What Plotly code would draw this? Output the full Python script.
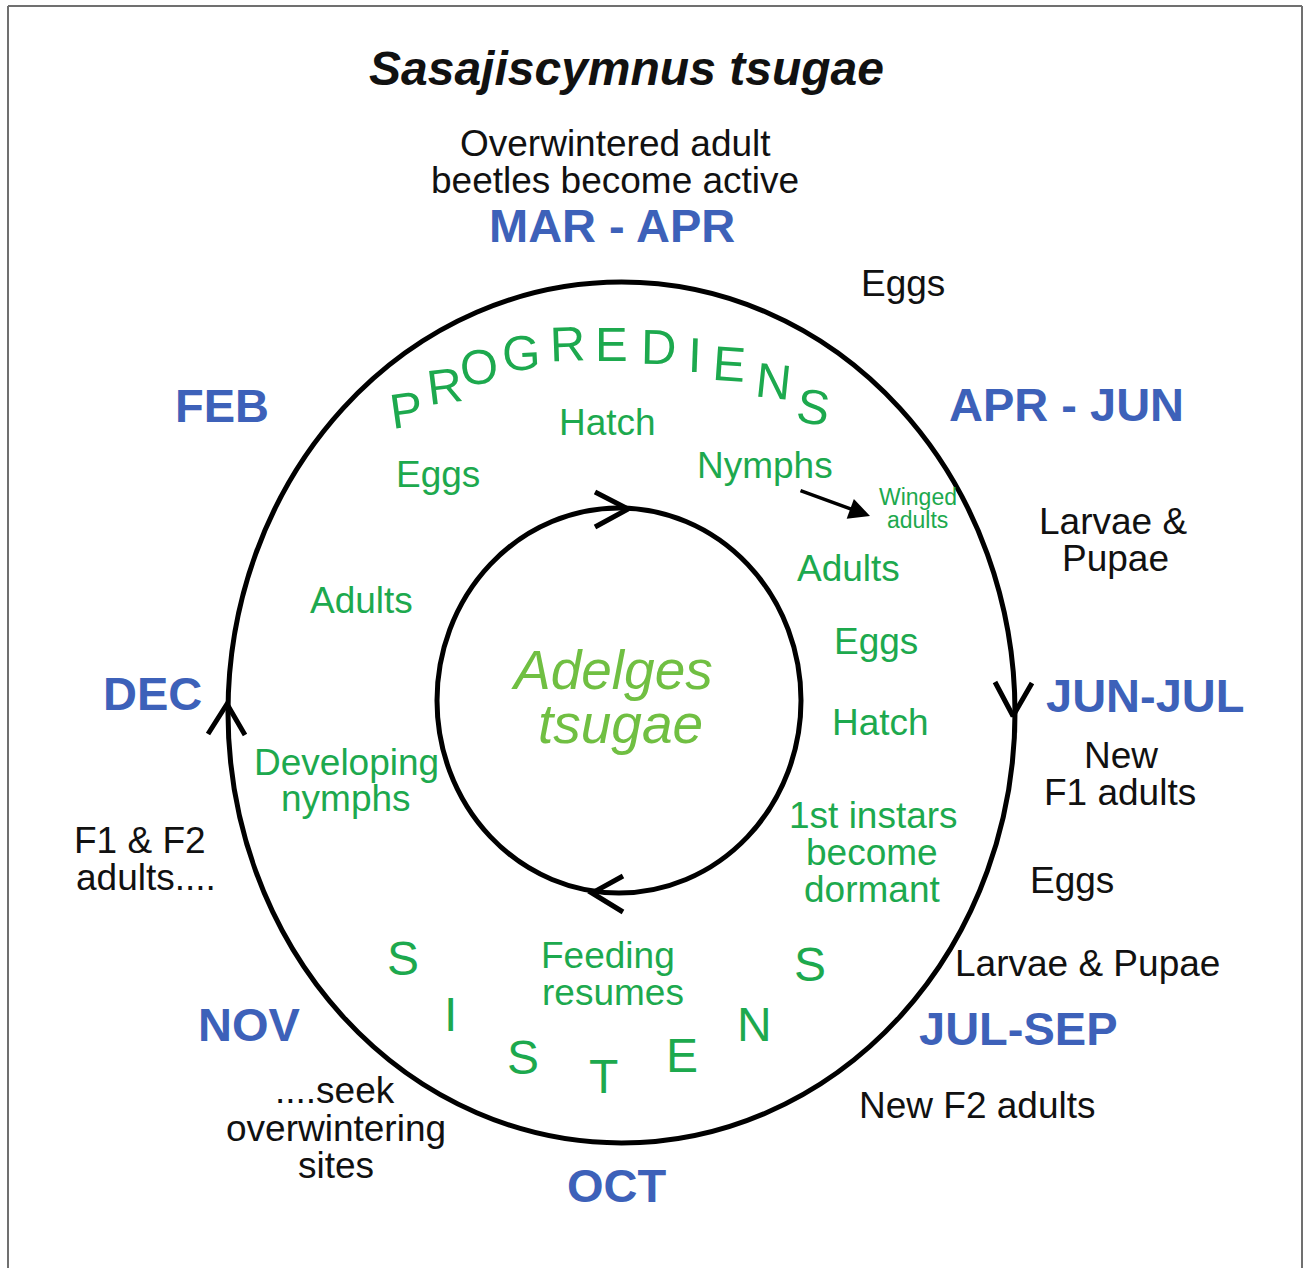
import plotly.graph_objects as go

W, H = 1304, 1268
FONT = "Liberation Sans, Arial, Helvetica, sans-serif"
BLUE = "#3D61B9"
GREEN = "#1DA94E"
LIGHT_GREEN = "#70BF42"
BLACK = "#111111"

# ---------------- data (labels) ----------------
title_text = "Sasajiscymnus tsugae"

month_labels = ["MAR - APR", "APR - JUN", "JUN-JUL", "JUL-SEP", "OCT", "NOV", "DEC", "FEB"]
month_x = [612, 1066, 1145, 1018, 617, 249, 152, 222]
month_y = [225, 404, 695, 1028, 1185, 1024, 693, 405]

beetle_labels = ["Overwintered adult", "beetles become active", "Eggs", "Larvae &", "Pupae",
                 "New", "F1 adults", "Eggs", "Larvae & Pupae", "New F2 adults",
                 "....seek", "overwintering", "sites", "F1 & F2", "adults...."]
beetle_x = [615, 615, 903, 1113, 1115, 1121, 1120, 1072, 1087, 977, 335, 336, 336, 140, 146]
beetle_y = [143, 180, 283, 521, 558, 755, 792, 880, 963, 1105, 1090, 1128, 1165, 840, 877]

adelgid_labels = ["Hatch", "Eggs", "Nymphs", "Adults", "Adults", "Eggs", "Hatch",
                  "Developing", "nymphs", "1st instars", "become", "dormant", "Feeding", "resumes"]
adelgid_x = [607, 438, 765, 848, 361, 876, 880, 346, 346, 873, 872, 872, 608, 613]
adelgid_y = [422, 474, 465, 568, 600, 641, 722, 762, 798, 815, 852, 889, 955, 992]

winged_labels = ["Winged", "adults"]
winged_x = [918, 917]
winged_y = [497, 520]

progrediens_letters = list("PROGREDIENS")
progrediens_x = [406, 444, 479, 521, 567, 611, 658, 695, 729, 773, 813]
progrediens_y = [410, 386, 367, 353, 344, 344, 347, 355, 364, 381, 407]
progrediens_angle = [-8, -7, -5, -3, -2, 0, 1, 2, 4, 6, 8]

sistens_letters = list("SISTENS")
sistens_x = [403, 450, 523, 603, 682, 754, 810]
sistens_y = [958, 1014, 1057, 1076, 1055, 1024, 964]

center_labels = ["Adelges", "tsugae"]
center_x = [612, 620]
center_y = [670, 724]

# cycle outlines (bounding boxes of ellipses)
outer_cycle = dict(x0=228, x1=1015, y0=282, y1=1143)
inner_cycle = dict(x0=437, x1=801, y0=508, y1=893)

# chevron arrowheads: arm, tip, arm
chevrons = [
    ([995, 1013, 1032], [682, 716, 683]),   # outer right, pointing down
    ([208, 227, 245], [734, 704, 735]),     # outer left, pointing up
    ([595, 628, 595], [492, 509, 527]),     # inner top, pointing right
    ([623, 592, 623], [876, 893, 912]),     # inner bottom, pointing left
]

# small arrow nymphs -> winged adults
small_arrow = dict(x0=799, y0=490, x1=870, y1=516)

# ---------------- figure ----------------
fig = go.Figure()

for cx, cy in chevrons:
    fig.add_trace(go.Scatter(x=cx, y=cy, mode="lines",
                             line=dict(color="black", width=5),
                             hoverinfo="skip", showlegend=False))

shapes = []
for c in (outer_cycle, inner_cycle):
    shapes.append(dict(type="circle", xref="x", yref="y", **c,
                       line=dict(color="black", width=5)))
# frame
shapes.append(dict(type="line", xref="x", yref="y", x0=8, x1=1302, y0=6, y1=6,
                   line=dict(color="#707070", width=2)))
shapes.append(dict(type="line", xref="x", yref="y", x0=8, x1=8, y0=6, y1=H,
                   line=dict(color="#707070", width=2)))
shapes.append(dict(type="line", xref="x", yref="y", x0=1302, x1=1302, y0=6, y1=H,
                   line=dict(color="#707070", width=2)))

ann = []


def txt(t, x, y, size, color, angle=0):
    ann.append(dict(x=x, y=y, xref="x", yref="y", text=t, showarrow=False,
                    xanchor="center", yanchor="middle", textangle=angle,
                    font=dict(family=FONT, size=size, color=color)))


txt("<b><i>" + title_text + "</i></b>", 626, 68, 48, BLACK)
for t, x, y in zip(month_labels, month_x, month_y):
    txt("<b>" + t + "</b>", x, y, 47, BLUE)
for t, x, y in zip(beetle_labels, beetle_x, beetle_y):
    txt(t, x, y, 37, BLACK)
for t, x, y in zip(adelgid_labels, adelgid_x, adelgid_y):
    txt(t, x, y, 37, GREEN)
for t, x, y in zip(winged_labels, winged_x, winged_y):
    txt(t, x, y, 23, GREEN)
for t, x, y, a in zip(progrediens_letters, progrediens_x, progrediens_y, progrediens_angle):
    txt(t, x, y, 49, GREEN, a)
for t, x, y in zip(sistens_letters, sistens_x, sistens_y):
    txt(t, x, y, 48, GREEN)
for t, x, y in zip(center_labels, center_x, center_y):
    txt("<i>" + t + "</i>", x, y, 55, LIGHT_GREEN)

ann.append(dict(x=small_arrow["x1"], y=small_arrow["y1"], ax=small_arrow["x0"], ay=small_arrow["y0"],
                xref="x", yref="y", axref="x", ayref="y", showarrow=True, text="",
                arrowhead=2, arrowsize=1.2, arrowwidth=3.5, arrowcolor="black"))

fig.update_layout(
    width=W, height=H,
    margin=dict(l=0, r=0, t=0, b=0),
    paper_bgcolor="white", plot_bgcolor="white",
    xaxis=dict(range=[0, W], visible=False, fixedrange=True),
    yaxis=dict(range=[H, 0], visible=False, fixedrange=True),
    shapes=shapes, annotations=ann, showlegend=False,
)

fig.write_html("out.html", config={"displayModeBar": False},
               post_script="document.body.style.margin='0';document.body.style.overflow='hidden';")
